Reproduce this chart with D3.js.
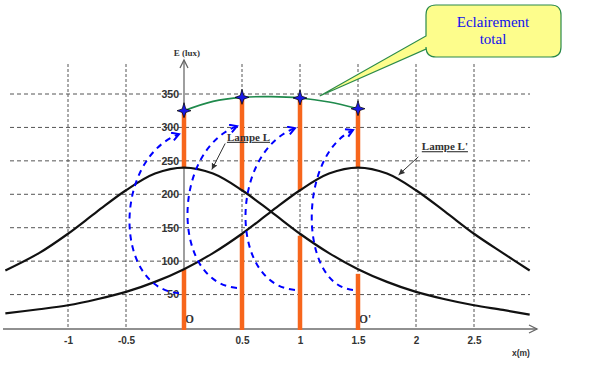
<!DOCTYPE html>
<html>
<head>
<meta charset="utf-8">
<script src="https://cdn.jsdelivr.net/npm/d3@7"></script>
<style>
  body { margin: 0; background: #fff; }
  svg { display: block; }
</style>
</head>
<body>
<div id="chart"></div>
<script>
// x positions (m) where the two lamp curves were read
var curveX = [-1.54, -1.25, -1, -0.75, -0.5, -0.25, 0, 0.25, 0.5, 0.75, 1, 1.25, 1.5, 1.75, 2, 2.25, 2.5, 2.75, 2.98];
// Lampe L (centred on O) and Lampe L' (centred on O'), in lux
var lampL  = [86, 112, 141, 174, 206, 231, 240, 231, 206, 174, 141, 112, 88, 69, 54, 43, 34, 27, 20];
var lampL2 = [22, 28, 34, 43, 54, 69, 88, 112, 141, 174, 206, 231, 240, 231, 206, 174, 141, 112, 86];

// total illumination between O and O'
var totalX = [0, 0.25, 0.5, 0.75, 1, 1.25, 1.5];
var totalE = [325, 339, 345, 346, 344, 338, 328];

// orange bars: lower part 0..low, upper part high..total
var barX = [0, 0.5, 1, 1.5];
var barLow = [88, 140, 138, 81];
var barHigh = [240, 206, 206, 240];
var barTotal = [325, 345, 344, 328];

// blue dashed arrows (start value, end value)
var arrowFrom = [52, 60, 57, 57];
var arrowTo = [290, 302, 299, 296];

var xTicks = [-1, -0.5, 0.5, 1, 1.5, 2, 2.5];
var yTicks = [50, 100, 150, 200, 250, 300, 350];

var svgWidth = 606, svgHeight = 374;

var svg = d3.select("#chart").append("svg")
  .attr("width", svgWidth)
  .attr("height", svgHeight);

var xScale = d3.scaleLinear().domain([-1, 2.5]).range([68, 474]);
var yScale = d3.scaleLinear().domain([0, 350]).range([328, 94]);

var defs = svg.append("defs");
defs.append("marker")
  .attr("id", "axisArrow")
  .attr("markerUnits", "userSpaceOnUse")
  .attr("markerWidth", 14).attr("markerHeight", 14)
  .attr("refX", 9).attr("refY", 5)
  .attr("orient", "auto")
  .append("path")
  .attr("d", "M1,1 L9,5 L1,9")
  .attr("fill", "none").attr("stroke", "#666").attr("stroke-width", 1.3);

defs.append("marker")
  .attr("id", "blueArrow")
  .attr("markerUnits", "userSpaceOnUse")
  .attr("markerWidth", 14).attr("markerHeight", 14)
  .attr("refX", 8).attr("refY", 5)
  .attr("orient", "auto")
  .append("path")
  .attr("d", "M1,1 L8,5 L1,9")
  .attr("fill", "none").attr("stroke", "#0000ff").attr("stroke-width", 2);

defs.append("marker")
  .attr("id", "leadArrow")
  .attr("markerUnits", "userSpaceOnUse")
  .attr("markerWidth", 10).attr("markerHeight", 10)
  .attr("refX", 6).attr("refY", 4)
  .attr("orient", "auto")
  .append("path")
  .attr("d", "M0,1 L6,4 L0,7 Z")
  .attr("fill", "#333");

// grid
var grid = svg.append("g");
grid.selectAll(".hgrid")
  .data(yTicks)
  .enter()
  .append("line")
  .attr("x1", 10).attr("x2", 530)
  .attr("y1", d => yScale(d)).attr("y2", d => yScale(d))
  .attr("stroke", "#555").attr("stroke-width", 1)
  .attr("stroke-dasharray", "4,3");

grid.selectAll(".vgrid")
  .data(xTicks)
  .enter()
  .append("line")
  .attr("x1", d => xScale(d)).attr("x2", d => xScale(d))
  .attr("y1", 64).attr("y2", yScale(0))
  .attr("stroke", "#555").attr("stroke-width", 1)
  .attr("stroke-dasharray", "3,2");

// axes lines
svg.append("line")
  .attr("x1", 3).attr("x2", 537)
  .attr("y1", yScale(0) + 1).attr("y2", yScale(0) + 1)
  .attr("stroke", "#6b6b6b").attr("stroke-width", 1.6)
  .attr("marker-end", "url(#axisArrow)");

svg.append("line")
  .attr("x1", xScale(0)).attr("x2", xScale(0))
  .attr("y1", yScale(0) + 1).attr("y2", 60)
  .attr("stroke", "#6b6b6b").attr("stroke-width", 1.3)
  .attr("marker-end", "url(#axisArrow)");

// tick labels
var yAxis = d3.axisLeft(yScale).tickValues(yTicks).tickSize(0).tickPadding(5);
var yG = svg.append("g")
  .attr("transform", `translate(${xScale(0)}, 0)`)
  .call(yAxis);
yG.select(".domain").remove();
yG.selectAll("text")
  .attr("font-family", "Liberation Sans, Arial, sans-serif")
  .attr("font-weight", "bold").attr("font-size", 10.5).attr("fill", "#333");

var xAxis = d3.axisBottom(xScale).tickValues(xTicks).tickFormat(d => String(d)).tickSize(0).tickPadding(9);
var xG = svg.append("g")
  .attr("transform", `translate(0, ${yScale(0)})`)
  .call(xAxis);
xG.select(".domain").remove();
xG.selectAll("text")
  .attr("font-family", "Liberation Sans, Arial, sans-serif")
  .attr("font-weight", "bold").attr("font-size", 10).attr("fill", "#333");

svg.append("text")
  .attr("x", xScale(0) + 3).attr("y", 56)
  .attr("text-anchor", "middle")
  .attr("font-family", "Liberation Serif, Times New Roman, serif")
  .attr("font-weight", "bold").attr("font-size", 9).attr("fill", "#333")
  .text("E (lux)");

svg.append("text")
  .attr("x", 512).attr("y", 356)
  .attr("font-family", "Liberation Sans, Arial, sans-serif")
  .attr("font-weight", "bold").attr("font-size", 8.5).attr("fill", "#333")
  .text("x(m)");

svg.append("text")
  .attr("x", xScale(0) + 1).attr("y", 323)
  .attr("font-family", "Liberation Serif, Times New Roman, serif")
  .attr("font-weight", "bold").attr("font-size", 11.5).attr("fill", "#333")
  .text("O");

svg.append("text")
  .attr("x", xScale(1.5) + 1).attr("y", 323)
  .attr("font-family", "Liberation Serif, Times New Roman, serif")
  .attr("font-weight", "bold").attr("font-size", 11.5).attr("fill", "#333")
  .text("O'");

// orange bars
var barW = 4.5;
var bars = barX.map((d, i) => ({x: d, low: barLow[i], high: barHigh[i], total: barTotal[i]}));
svg.selectAll(".barLow")
  .data(bars)
  .enter()
  .append("rect")
  .attr("x", d => xScale(d.x) - barW / 2)
  .attr("y", d => yScale(d.low))
  .attr("width", barW)
  .attr("height", d => yScale(0) - yScale(d.low) + 2)
  .attr("fill", "#f7661c");

svg.selectAll(".barHigh")
  .data(bars)
  .enter()
  .append("rect")
  .attr("x", d => xScale(d.x) - barW / 2)
  .attr("y", d => yScale(d.total))
  .attr("width", barW)
  .attr("height", d => yScale(d.high) - yScale(d.total))
  .attr("fill", "#f7661c");

// lamp curves
var lampLine = d3.line()
  .x(d => xScale(d[0]))
  .y(d => yScale(d[1]))
  .curve(d3.curveCatmullRom);

svg.append("path")
  .attr("d", lampLine(curveX.map((d, i) => [d, lampL[i]])))
  .attr("fill", "none").attr("stroke", "#111").attr("stroke-width", 2.2);

svg.append("path")
  .attr("d", lampLine(curveX.map((d, i) => [d, lampL2[i]])))
  .attr("fill", "none").attr("stroke", "#111").attr("stroke-width", 2.2);

// blue dashed arrows
bars.forEach(function(d, i) {
  var x0 = xScale(d.x) - 5;
  var y0 = yScale(arrowFrom[i]);
  var y1 = yScale(arrowTo[i]);
  var bulge = i == 3 ? 55 : 66;
  var p = d3.path();
  p.moveTo(x0, y0);
  p.bezierCurveTo(x0 - bulge, y0 - 5, x0 - bulge, y1 + 25, x0, y1);
  svg.append("path")
    .attr("d", p.toString())
    .attr("fill", "none").attr("stroke", "#0000ff").attr("stroke-width", 2)
    .attr("stroke-dasharray", "6,5")
    .attr("marker-end", "url(#blueArrow)");
});

// total illumination curve
svg.append("path")
  .attr("d", lampLine(totalX.map((d, i) => [d, totalE[i]])))
  .attr("fill", "none").attr("stroke", "#1f8a4c").attr("stroke-width", 1.6);

// stars
var starPath = "M0,-8 L1.8,-1.8 L7,0 L1.8,1.8 L0,7 L-1.8,1.8 L-7,0 L-1.8,-1.8 Z";
svg.selectAll(".star")
  .data(bars)
  .enter()
  .append("path")
  .attr("d", starPath)
  .attr("transform", d => `translate(${xScale(d.x)}, ${yScale(d.total)})`)
  .attr("fill", "#1a1ae6").attr("stroke", "#000").attr("stroke-width", 0.7);

// lamp labels
function lampLabel(tx, tv, text, fromX, fromV, toX, toV) {
  svg.append("text")
    .attr("x", xScale(tx)).attr("y", yScale(tv))
    .attr("font-family", "Liberation Serif, Times New Roman, serif")
    .attr("font-weight", "bold").attr("font-size", 11).attr("fill", "#333")
    .attr("text-decoration", "underline")
    .text(text);
  svg.append("line")
    .attr("x1", xScale(fromX)).attr("y1", yScale(fromV))
    .attr("x2", xScale(toX)).attr("y2", yScale(toV))
    .attr("stroke", "#333").attr("stroke-width", 1)
    .attr("marker-end", "url(#leadArrow)");
}
lampLabel(0.37, 280, "Lampe L", 0.355, 276, 0.24, 237);
lampLabel(2.05, 266, "Lampe L'", 2.02, 256, 1.85, 229);

// callout
var bx0 = 426, by0 = 5, bx1 = 561, by1 = 57, r = 10;
var tipX = xScale(1.17), tipY = yScale(347);
var c = d3.path();
c.moveTo(bx0 + r, by0);
c.lineTo(bx1 - r, by0);
c.quadraticCurveTo(bx1, by0, bx1, by0 + r);
c.lineTo(bx1, by1 - r);
c.quadraticCurveTo(bx1, by1, bx1 - r, by1);
c.lineTo(bx0 + r, by1);
c.quadraticCurveTo(bx0, by1, bx0, by1 - r);
c.lineTo(bx0, 49);
c.lineTo(tipX, tipY);
c.lineTo(bx0, 36);
c.lineTo(bx0, by0 + r);
c.quadraticCurveTo(bx0, by0, bx0 + r, by0);
c.closePath();
svg.append("path")
  .attr("d", c.toString())
  .attr("fill", "#fdfd8c").attr("stroke", "#2b8a4a").attr("stroke-width", 1.2);

svg.append("text")
  .attr("x", 493).attr("y", 27)
  .attr("text-anchor", "middle")
  .attr("font-family", "Liberation Serif, Times New Roman, serif")
  .attr("font-size", 15).attr("fill", "#1010ee")
  .text("Eclairement");
svg.append("text")
  .attr("x", 493).attr("y", 44)
  .attr("text-anchor", "middle")
  .attr("font-family", "Liberation Serif, Times New Roman, serif")
  .attr("font-size", 15).attr("fill", "#1010ee")
  .text("total");
</script>
</body>
</html>
